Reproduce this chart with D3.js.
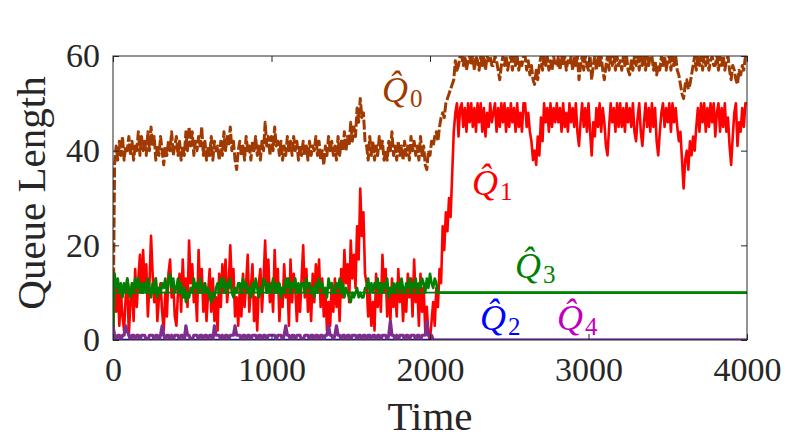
<!DOCTYPE html>
<html><head><meta charset="utf-8">
<script src="https://cdn.jsdelivr.net/npm/d3@7"></script>
<style>body{margin:0;background:#fff}</style>
</head><body><svg id="c" width="789" height="444"></svg>
<script>
// ---- data ----
const sampleTimes = d3.range(0, 4001, 10); // sampling grid of the long series
const q0 = [
 0,37,41,38,42,39,43,38,41,40,43,39,42,38,41,40,44,39,43,40,
 42,39,44,40,45,41,43,38,41,39,43,40,37,41,39,42,40,44,39,41,
 43,39,42,38,41,39,44,40,45,41,44,39,42,40,43,41,45,39,42,38,
 41,39,43,38,42,40,41,38,42,39,44,40,43,41,45,40,42,38,36,40,
 42,39,41,38,43,40,41,38,42,40,43,39,41,38,42,40,46,41,43,39,
 43,40,45,41,42,39,42,38,41,39,43,40,42,39,43,40,42,38,41,39,
 42,39,41,38,42,39,41,40,43,39,42,38,40,37,41,39,43,40,42,39,
 41,38,43,39,42,40,44,40,43,41,46,42,45,43,49,46,51,47,48,42,
 41,38,43,39,42,38,41,39,43,40,42,38,40,38,42,40,44,39,41,38,
 42,39,41,38,42,39,41,38,43,40,42,39,41,38,43,39,41,37,36,40,
 39,42,41,43,44,42,45,47,48,47,50,51,52,53,54,55,59,57,58,60,
 60,58,60,57,59,60,58,60,57,60,59,57,60,58,60,57,60,59,60,58,
 58,60,59,57,55,58,60,58,60,57,59,60,57,60,58,60,57,59,58,60,
 60,57,59,56,58,55,54,57,55,58,60,57,60,58,60,57,59,57,60,58,
 58,60,57,60,58,60,57,59,58,60,57,60,58,60,55,58,60,57,60,58,
 57,60,55,58,60,57,60,58,60,57,55,58,60,57,60,58,60,57,60,58,
 59,57,60,58,60,57,56,59,57,60,58,60,57,60,58,60,57,60,58,60,
 60,57,59,56,58,57,60,58,60,57,59,60,57,60,58,60,57,56,54,52,
 51,54,55,53,54,56,58,60,57,60,58,60,57,60,58,60,57,59,60,58,
 58,60,57,60,58,60,57,59,60,57,55,58,57,55,54,57,56,58,57,60,
 60];
const q1 = [
 0,14,6,12,3,10,5,2,9,13,1,8,12,4,15,7,13,18,10,19,
 11,16,5,12,22,14,8,13,4,9,12,6,2,10,5,14,17,9,12,5,
 3,10,14,6,17,9,13,7,21,12,16,8,11,4,19,10,15,6,12,4,
 10,15,6,13,4,9,2,14,7,16,10,17,8,12,20,11,15,5,9,3,
 11,5,14,7,12,18,6,11,16,4,9,2,12,15,6,13,21,10,17,8,
 12,6,19,10,15,4,11,7,16,9,13,3,17,8,14,11,4,10,6,13,
 20,9,15,6,12,4,14,8,16,10,17,7,13,5,11,2,8,3,12,6,
 13,7,11,4,15,9,19,12,16,8,21,13,18,11,24,17,32,22,27,14,
 12,5,10,3,8,2,14,7,12,6,18,10,15,5,11,4,13,7,11,5,
 15,8,12,4,10,6,14,9,13,5,17,8,11,3,14,6,11,2,7,1,
 0,4,8,3,11,7,15,12,24,19,27,23,30,26,35,44,48,50,43,49,
 50,45,49,44,50,46,50,45,49,44,50,46,50,44,49,43,48,45,50,46,
 48,50,44,49,45,50,46,50,44,49,45,50,46,49,44,50,45,48,44,50,
 50,45,48,44,42,38,40,37,43,39,47,42,50,46,49,44,50,45,49,46,
 50,46,49,44,50,45,48,44,50,46,49,45,50,44,41,46,50,45,49,44,
 50,44,39,46,43,49,45,50,44,49,46,41,39,45,50,46,49,44,50,45,
 50,45,49,44,50,46,49,45,50,44,42,47,50,44,41,46,50,45,49,44,
 50,45,49,42,39,44,48,50,45,49,46,50,44,50,46,49,45,42,44,38,
 32,38,40,36,42,39,43,40,45,49,44,50,46,50,44,49,45,50,46,50,
 43,48,50,44,49,45,50,44,47,41,37,43,48,50,41,46,44,49,45,50,
 50];
const q2Times = [0, 4000];
const q2 = [0, 0];
const q3Times = d3.range(0, 2051, 10).concat([2060, 4000]);
const q3 = [
 0,14,11,13,10,12,9,12,10,13,11,9,12,10,13,11,13,10,12,10,
 12,10,13,11,9,12,10,13,9,11,10,12,11,13,10,12,14,11,13,10,
 11,13,10,12,9,11,8,10,9,11,10,13,11,12,10,13,11,10,12,10,
 11,9,8,10,9,11,12,10,13,11,13,10,12,11,13,10,9,11,10,12,
 12,10,13,11,12,10,11,9,12,10,13,11,9,11,10,13,12,10,12,10,
 11,13,10,12,10,12,9,11,10,13,11,13,10,12,11,13,10,12,10,12,
 12,10,13,11,12,10,11,9,12,10,13,11,12,10,11,9,13,11,12,10,
 10,12,11,13,10,12,9,11,10,9,8,10,9,10,11,9,10,9,9,11,
 11,13,10,12,10,12,11,13,10,12,10,12,11,13,9,11,10,12,10,12,
 12,10,13,11,10,12,11,13,10,12,11,13,10,12,11,13,12,10,13,11,
 14,12,11,13,12,10,
 10,10];
const q4Times = d3.range(0, 2021, 10).concat([2030, 4000]);
const q4 = [
 3,1,0,1,1,0,1,1,3,2,1,0,1,1,0,1,1,0,1,1,
 1,0,0,1,1,1,0,1,1,0,1,3,1,0,1,1,0,1,0,1,
 1,1,0,1,1,0,3,1,1,0,0,1,1,1,0,1,1,0,1,1,
 0,1,1,0,3,1,1,1,0,1,0,1,1,0,1,1,1,3,1,1,
 1,0,1,1,0,1,1,0,1,1,1,0,1,1,0,1,1,0,1,1,
 1,1,1,0,1,1,1,0,1,3,1,1,0,1,1,0,1,1,1,0,
 0,1,1,1,0,1,1,0,1,1,0,1,1,0,1,1,3,1,1,0,
 1,3,1,1,0,1,1,0,1,1,0,1,1,1,0,1,1,0,1,1,
 0,1,1,0,1,1,0,1,1,0,1,1,1,0,1,4,1,1,0,1,
 0,1,1,1,0,1,1,0,1,1,1,0,1,1,0,1,1,1,4,1,
 1,1,0,
 0,0];
const refTimes = [0, 4000];
const refLevel = [10, 10];
const xTicks = [0, 1000, 2000, 3000, 4000];
const yTicks = [0, 20, 40, 60];
const xLabel = "Time", yLabel = "Queue Length";

// ---- drawing ----
const svg = d3.select("#c");
const L = 113, R = 747, T = 56, B = 340;
const x = d3.scaleLinear().domain([0, 4000]).range([L, R]);
const y = d3.scaleLinear().domain([0, 60]).range([B, T]);
const axisCol = "#262626";
const font = "'Liberation Serif', 'Times New Roman', serif";

svg.append("defs").append("clipPath").attr("id","clip")
  .append("rect").attr("x",L).attr("y",T).attr("width",R-L).attr("height",B-T);

const plot = svg.append("g").attr("clip-path","url(#clip)");
const line = (ts) => d3.line().x((d,i)=>x(ts[Math.min(i, ts.length-1)])).y(d=>y(d));

function series(vals, ts, col, w, dash){
  const p = plot.append("path").datum(vals)
    .attr("d", line(ts))
    .attr("fill","none").attr("stroke",col).attr("stroke-width",w)
    .attr("stroke-linejoin","round").attr("stroke-linecap","butt");
  if (dash) p.attr("stroke-dasharray", dash);
}
series(q0, sampleTimes, "#a03a00", 3, "10,2.5");
series(q1, sampleTimes, "#ff0000", 2.6);
series(q2, q2Times, "#0000ff", 2.5);
series(q3, q3Times, "#008000", 2.6);
series(refLevel, refTimes, "#008000", 1.6);
series(q4, q4Times, "#7e2f8e", 3.2);

// axes
function styleAxis(g){
  g.select(".domain").remove();
  g.selectAll("line").attr("stroke",axisCol).attr("stroke-width",1);
  g.selectAll("text").attr("fill",axisCol).style("font-family",font).style("font-size","34px");
}
svg.append("g").attr("transform",`translate(0,${B})`)
  .call(d3.axisBottom(x).tickValues(xTicks).tickSize(-6).tickPadding(17).tickFormat(d3.format("d")))
  .call(styleAxis);
svg.append("g").attr("transform",`translate(0,${T})`)
  .call(d3.axisTop(x).tickValues(xTicks).tickSize(-6).tickFormat(""))
  .call(styleAxis);
svg.append("g").attr("transform",`translate(${L},0)`)
  .call(d3.axisLeft(y).tickValues(yTicks).tickSize(-6).tickPadding(13).tickFormat(d3.format("d")))
  .call(styleAxis);
svg.append("g").attr("transform",`translate(${R},0)`)
  .call(d3.axisRight(y).tickValues(yTicks).tickSize(-6).tickFormat(""))
  .call(styleAxis);
svg.append("rect").attr("x",L).attr("y",T).attr("width",R-L).attr("height",B-T)
  .attr("fill","none").attr("stroke",axisCol).attr("stroke-width",1);

svg.append("text").attr("x",(L+R)/2).attr("y",430).attr("text-anchor","middle")
  .attr("fill",axisCol).style("font-family",font).style("font-size","41px").text(xLabel);
svg.append("text").attr("transform","translate(45,193) rotate(-90)").attr("text-anchor","middle")
  .attr("fill",axisCol).style("font-family",font).style("font-size","41px").text(yLabel);

// series labels  (Q with hat and subscript, one text element each)
const labels = [
  {sub:"0", col:"#a03a00", qx:382, by:102},
  {sub:"1", col:"#ff0000", qx:472, by:195},
  {sub:"3", col:"#008000", qx:515, by:278},
  {sub:"2", col:"#0000ff", qx:480, by:330},
  {sub:"4", col:"#bf00bf", qx:557, by:330}
];
labels.forEach(l=>{
  const t = svg.append("text").attr("x",l.qx).attr("y",l.by).attr("fill",l.col).style("font-family",font);
  t.append("tspan").style("font-size","36px").style("font-style","italic").text("Q\u0302");
  t.append("tspan").attr("dx",2).attr("dy",5).style("font-size","25px").text(l.sub);
});
</script></body></html>
